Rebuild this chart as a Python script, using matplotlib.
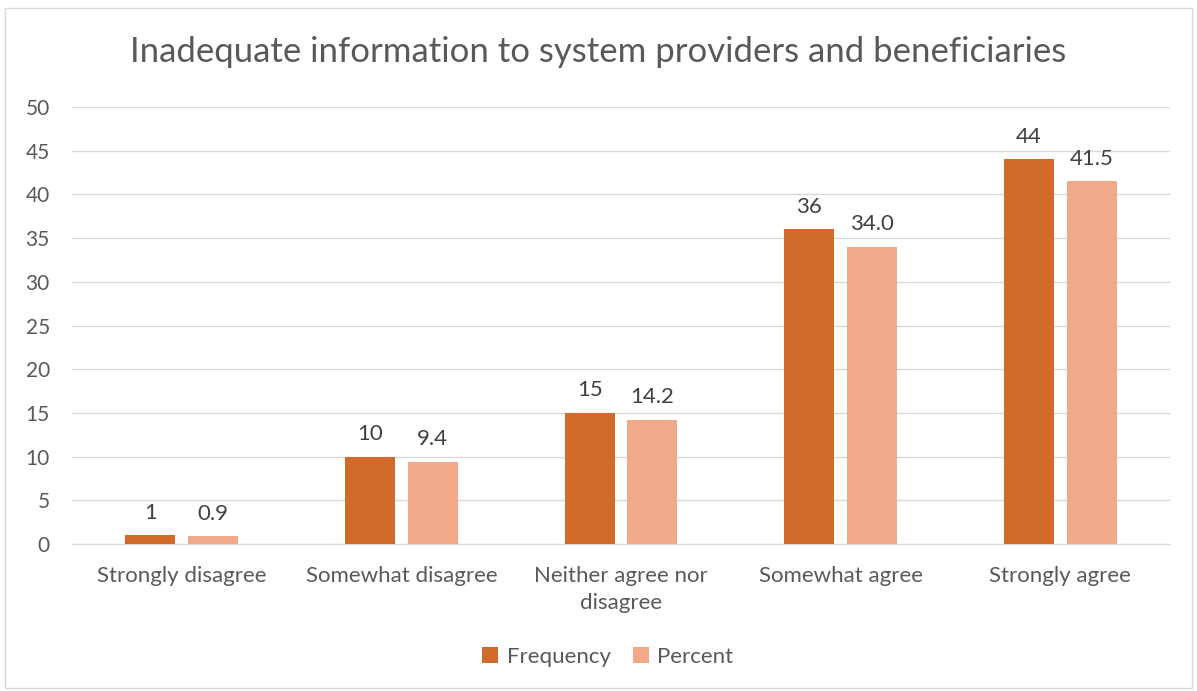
import matplotlib.pyplot as plt
import numpy as np
from matplotlib.patches import Rectangle

categories = ["Strongly disagree", "Somewhat disagree", "Neither agree nor\ndisagree",
              "Somewhat agree", "Strongly agree"]
frequency = [1, 10, 15, 36, 44]
percent = [0.9, 9.4, 14.2, 34.0, 41.5]
freq_labels = ["1", "10", "15", "36", "44"]
pct_labels = ["0.9", "9.4", "14.2", "34.0", "41.5"]
yticks = [0, 5, 10, 15, 20, 25, 30, 35, 40, 45, 50]

plt.rcParams["font.family"] = ["Lato", "DejaVu Sans"]
text_color = "#595959"

fig = plt.figure(figsize=(11.97, 6.91), dpi=100)
fig.patches.append(Rectangle((0.004, 0.004), 0.992, 0.985, transform=fig.transFigure,
                             fill=False, edgecolor="#D9D9D9", linewidth=1))
ax = fig.add_axes([72 / 1197, 1 - 544 / 691, 1098 / 1197, (544 - 107) / 691])

x = np.arange(len(categories))
w = 0.227
off = 0.143
b1 = ax.bar(x - off, frequency, w, color="#D26B2A", label="Frequency", zorder=3)
b2 = ax.bar(x + off, percent, w, color="#F1A98A", label="Percent", zorder=3)

# etiquetas de datos
for bars, labels in [(b1, freq_labels), (b2, pct_labels)]:
    for bar, lab in zip(bars, labels):
        ax.annotate(lab, (bar.get_x() + bar.get_width() / 2, bar.get_height()),
                    xytext=(0, 9), textcoords="offset points", ha="center", va="bottom",
                    fontsize=16, color="#404040")

ax.set_xlim(-0.5, len(categories) - 0.5)
ax.set_ylim(0, 50)
ax.set_yticks(yticks)
ax.set_xticks(x)
ax.set_xticklabels(categories, fontsize=16, color=text_color, linespacing=1.4)
ax.tick_params(axis="y", labelsize=15, labelcolor=text_color, length=0, pad=16)
ax.tick_params(axis="x", length=0, pad=16)
ax.grid(axis="y", color="#D9D9D9", linewidth=1, zorder=0)
for s in ["top", "right", "left"]:
    ax.spines[s].set_visible(False)
ax.spines["bottom"].set_color("#D9D9D9")

fig.text(0.5, 1 - 52 / 691, "Inadequate information to system providers and beneficiaries",
         ha="center", va="center", fontsize=25, color=text_color)

fig.legend(handles=[b1, b2], loc="center", bbox_to_anchor=(608 / 1197, 1 - 657 / 691),
           ncol=2, frameon=False, fontsize=16, labelcolor=text_color,
           handlelength=0.7, handleheight=0.7, columnspacing=1.0, handletextpad=0.4)

fig.savefig("out.png", dpi=100)
